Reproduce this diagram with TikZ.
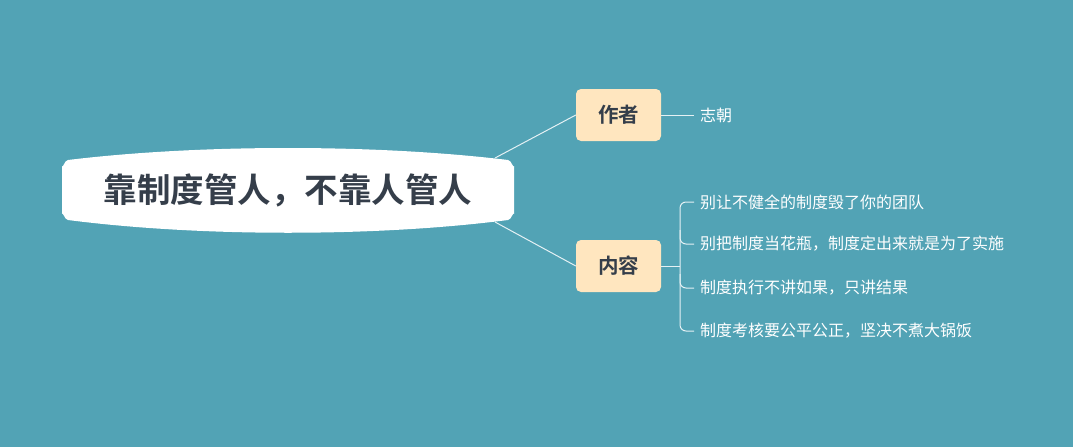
\documentclass[tikz,border=0pt]{standalone}
\usepackage{fontspec}
\newfontfamily\cjk{Noto Sans CJK SC}
\newfontfamily\cjkb{Noto Sans CJK SC Bold}
\definecolor{bg}{HTML}{52A3B5}
\definecolor{boxc}{HTML}{FFE6BF}
\definecolor{txt}{HTML}{353E4A}
\tikzset{
  sub/.style={rectangle,rounded corners=5pt,fill=boxc,minimum width=85pt,minimum height=52pt,font=\cjkb\fontsize{20.5}{22}\selectfont,text=txt,inner sep=0pt},
  leaf/.style={anchor=west,font=\cjk\fontsize{16}{18}\selectfont,text=white,inner sep=0pt},
  conn/.style={draw=white!85!bg,line width=1pt}
}
\begin{document}
\begin{tikzpicture}[x=1pt,y=-1pt]
\fill[bg] (0,0) rectangle (1073,447);
\useasboundingbox (0,0) rectangle (1073,447);
% central shape
\fill[white] (62,166) to[out=-80,in=180] (68,160) .. controls (200,144) and (376,144) .. (508,160) to[out=0,in=-100] (514,166) -- (514,214) to[out=100,in=0] (508,220) .. controls (376,237) and (200,237) .. (68,220) to[out=180,in=80] (62,214) -- cycle;
\node[font=\cjkb\fontsize{33.5}{36}\selectfont,text=txt] (root) at (288,190) {靠制度管人，不靠人管人};
\coordinate (r1) at (495,158);
\coordinate (r2) at (495,222);
\node[sub] (a) at (618.5,115) {作者};
\node[sub] (b) at (618.5,266) {内容};
\draw[conn] (r1) -- (a.west);
\draw[conn] (r2) -- (b.west);
\node[leaf] (a1) at (700,115) {志朝};
\draw[conn] (a.east) -- ([xshift=-6pt]a1.west);
\node[leaf] (b1) at (700,202) {别让不健全的制度毁了你的团队};
\node[leaf] (b2) at (700,244) {别把制度当花瓶，制度定出来就是为了实施};
\node[leaf] (b3) at (700,288) {制度执行不讲如果，只讲结果};
\node[leaf] (b4) at (700,331) {制度考核要公平公正，坚决不煮大锅饭};
\coordinate (j) at (680,266);
\draw[conn] (b.east) -- (j);
\draw[conn,rounded corners=6pt] ([xshift=-6pt]b1.west) -- (680,202) -- (680,331) -- ([xshift=-6pt]b4.west);
\draw[conn,rounded corners=6pt] (680,230) |- ([xshift=-6pt]b2.west);
\draw[conn,rounded corners=6pt] (680,274) |- ([xshift=-6pt]b3.west);
\end{tikzpicture}
\end{document}
